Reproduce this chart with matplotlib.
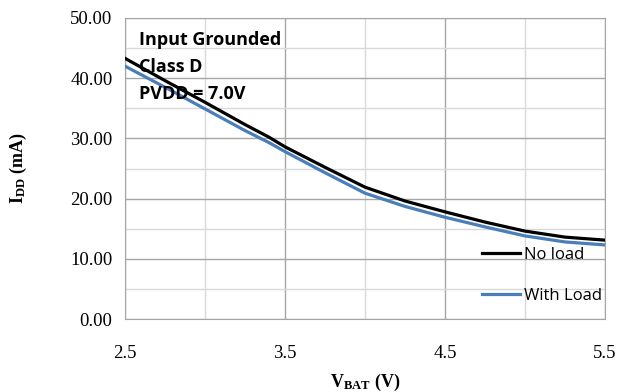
import matplotlib
matplotlib.use("Agg")
import matplotlib.pyplot as plt
from matplotlib.ticker import MultipleLocator

# supply voltage (V)
vbat = [2.5, 2.75, 3.0, 3.25, 3.4, 3.5, 3.75, 4.0, 4.25, 4.5, 4.75, 5.0, 5.25, 5.5]
# supply current (mA)
idd_no_load = [43.3, 39.6, 36.0, 32.3, 30.2, 28.6, 25.2, 21.9, 19.6, 17.8, 16.1, 14.6, 13.6, 13.1]
idd_with_load = [42.0, 38.5, 34.9, 31.3, 29.3, 27.8, 24.3, 20.9, 18.7, 16.9, 15.3, 13.8, 12.8, 12.3]

x_ticks = [2.5, 3.5, 4.5, 5.5]
y_ticks = [0, 10, 20, 30, 40, 50]
notes = ["Input Grounded", "Class D", "PVDD = 7.0V"]

SERIF = "Liberation Serif"
SANS = "Open Sans"

plt.rcParams["mathtext.fontset"] = "custom"
plt.rcParams["mathtext.rm"] = "Liberation Serif"
plt.rcParams["mathtext.bf"] = "Liberation Serif:bold"

fig = plt.figure(figsize=(6.19, 3.92), dpi=100)
ax = fig.add_axes([125 / 619, 73 / 392, 480 / 619, 301 / 392])

ax.plot(vbat, idd_no_load, color="black", lw=2.3, label="No load", zorder=3)
ax.plot(vbat, idd_with_load, color="#4a7ebb", lw=2.3, label="With Load", zorder=3)

ax.set_xlim(2.5, 5.5)
ax.set_ylim(0, 50)
ax.set_xticks(x_ticks)
ax.set_yticks(y_ticks)
ax.xaxis.set_minor_locator(MultipleLocator(0.5))
ax.yaxis.set_minor_locator(MultipleLocator(5))
ax.set_xticklabels([f"{v:.1f}" for v in x_ticks], family=SERIF, fontsize=13.5)
ax.set_yticklabels([f"{v:.2f}" for v in y_ticks], family=SERIF, fontsize=13.5)
ax.tick_params(which="both", length=0)
ax.tick_params(axis="x", pad=19)
ax.tick_params(axis="y", pad=9)

ax.grid(which="major", color="#a6a6a6", lw=1.0)
ax.grid(which="minor", color="#d9d9d9", lw=1.0)
ax.set_axisbelow(True)
for s in ax.spines.values():
    s.set_color("#a6a6a6")

ax.set_ylabel(r"$\mathbf{I_{DD}}$ (mA)", family=SERIF, fontsize=13,
              fontweight="bold")
ax.set_xlabel(r"$\mathbf{V_{BAT}}$ (V)", family=SERIF, fontsize=13,
              fontweight="bold")
ax.yaxis.set_label_coords(-0.199, 0.5)
ax.xaxis.set_label_coords(0.5, -0.175)

for i, t in enumerate(notes):
    ax.text(0.03, 0.927 - i * 0.09, t, transform=ax.transAxes, family=SANS,
            fontsize=13, fontweight="bold", va="center", ha="left")

ax.legend(loc="upper left", bbox_to_anchor=(0.744, 0.24), frameon=False,
          prop={"family": SANS, "size": 12}, labelspacing=1.5,
          handlelength=2.3, handletextpad=0.2, borderpad=0, borderaxespad=0)

fig.savefig("out.png", dpi=100)
